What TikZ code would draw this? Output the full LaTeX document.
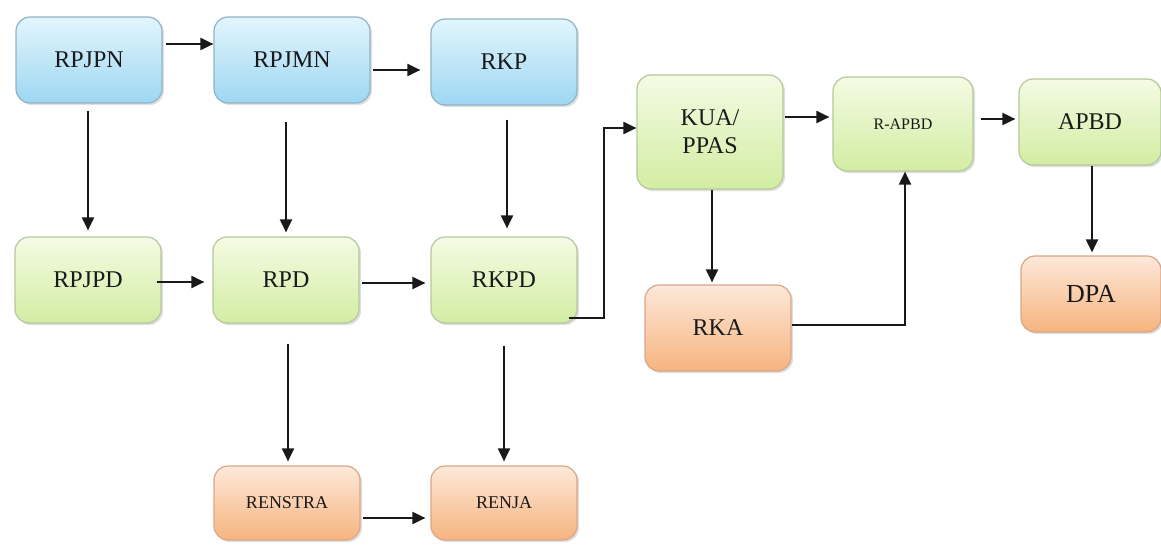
\documentclass[tikz,border=0pt]{standalone}
\usepackage{fontspec}
\setmainfont{Liberation Serif}
\usetikzlibrary{positioning,shadows,arrows.meta}
\definecolor{bluetop}{HTML}{E2F5FD}
\definecolor{bluebot}{HTML}{9ED7F2}
\definecolor{blueline}{HTML}{8FB3C6}
\definecolor{greentop}{HTML}{F4FBE4}
\definecolor{greenbot}{HTML}{D2EDA2}
\definecolor{greenline}{HTML}{B4C89A}
\definecolor{orangetop}{HTML}{FDE8DA}
\definecolor{orangebot}{HTML}{F6B47E}
\definecolor{orangeline}{HTML}{D9A786}
\tikzset{
  planbox/.style={rectangle, rounded corners=7pt, align=center, line width=0.6pt,
    minimum width=73pt, minimum height=43pt, text=black!90,
    font=\fontsize{12}{14}\selectfont,
    drop shadow={shadow xshift=1pt, shadow yshift=-1pt, opacity=0.25}},
  bluebox/.style={planbox, draw=blueline, top color=bluetop, bottom color=bluebot},
  greenbox/.style={planbox, draw=greenline, top color=greentop, bottom color=greenbot},
  orangebox/.style={planbox, draw=orangeline, top color=orangetop, bottom color=orangebot},
  link/.style={-{Triangle[length=6.5pt,width=6pt]}, line width=1pt, black!90}
}
\begin{document}
\begin{tikzpicture}[x=0.5pt,y=0.5pt]
  \useasboundingbox (0,0) rectangle (1161,-556);
  % national plans
  \node[bluebox] (rpjpn) at (89,-60) {RPJPN};
  \node[bluebox, minimum width=78pt] (rpjmn) at (292,-60) {RPJMN};
  \node[bluebox] (rkp) at (504,-62) {RKP};
  % regional plans
  \node[greenbox] (rpjpd) at (88,-280) {RPJPD};
  \node[greenbox] (rpd) at (286,-280) {RPD};
  \node[greenbox] (rkpd) at (504,-280) {RKPD};
  \node[orangebox, minimum height=37pt, font=\fontsize{9}{10}\selectfont] (renstra) at (287,-503) {RENSTRA};
  \node[orangebox, minimum height=37pt, font=\fontsize{9}{10}\selectfont] (renja) at (504,-503) {RENJA};
  % budget
  \node[greenbox, minimum height=57pt] (kua) at (710,-132) {KUA/\\PPAS};
  \node[greenbox, minimum width=70pt, minimum height=47pt, font=\fontsize{8}{9}\selectfont] (rapbd) at (903,-124) {R-APBD};
  \node[greenbox, minimum width=71pt] (apbd) at (1090,-122) {APBD};
  \node[orangebox] (rka) at (718,-328) {RKA};
  \node[orangebox, minimum width=70pt, minimum height=38pt, font=\fontsize{13}{14}\selectfont] (dpa) at (1091,-294) {DPA};

  \draw[link, shorten <=1.5pt] ([yshift=8pt]rpjpn.east) -- ([yshift=8pt]rpjmn.west);
  \draw[link, shorten <=1pt, shorten >=5pt] ([yshift=-5pt]rpjmn.east) -- ([yshift=-5pt]rpjmn.east -| rkp.west);
  \draw[link, shorten <=3.5pt, shorten >=3pt] (rpjpd.north |- rpjpn.south) -- (rpjpd.north);
  \draw[link, shorten <=9pt, shorten >=2pt] (rpd.north |- rpjmn.south) -- (rpd.north);
  \draw[link, shorten <=7pt, shorten >=4pt] ([xshift=1.5pt]rkp.south) -- ([xshift=1.5pt]rkpd.north);
  \draw[link, shorten >=4pt] ([xshift=-2.5pt,yshift=-1pt]rpjpd.east) -- ([yshift=-1pt]rpd.west);
  \draw[link, shorten <=1pt, shorten >=2.5pt] ([yshift=-1.5pt]rpd.east) -- ([yshift=-1.5pt]rkpd.west);
  \draw[link, shorten <=10pt, shorten >=2pt] ([xshift=1pt]rpd.south) -- ([xshift=1pt]rpd.south |- renstra.north);
  \draw[link, shorten <=11pt, shorten >=2pt] (rkpd.south) -- (renja.north);
  \draw[link, shorten <=1pt, shorten >=2.5pt] ([yshift=-7.5pt]renstra.east) -- ([yshift=-7.5pt]renja.west);
  \draw[link] ([xshift=-4.5pt,yshift=3pt]rkpd.south east) -- ++(17.5pt,0) |- ([yshift=2pt]kua.west);
  \draw[link, shorten <=0.5pt, shorten >=1.5pt] ([yshift=7.5pt]kua.east) -- ([yshift=7.5pt]kua.east -| rapbd.west);
  \draw[link, shorten <=3.5pt, shorten >=1.5pt] ([yshift=2.5pt]rapbd.east) -- ([yshift=2.5pt]rapbd.east -| apbd.west);
  \draw[link, shorten >=1pt] ([xshift=1pt]kua.south) -- ([xshift=1pt]kua.south |- rka.north);
  \draw[link] ([yshift=1.5pt]rka.east) -| ([xshift=1pt]rapbd.south);
  \draw[link, shorten >=1.5pt] ([xshift=1pt]apbd.south) -- ([xshift=1pt]apbd.south |- dpa.north);
\end{tikzpicture}
\end{document}
